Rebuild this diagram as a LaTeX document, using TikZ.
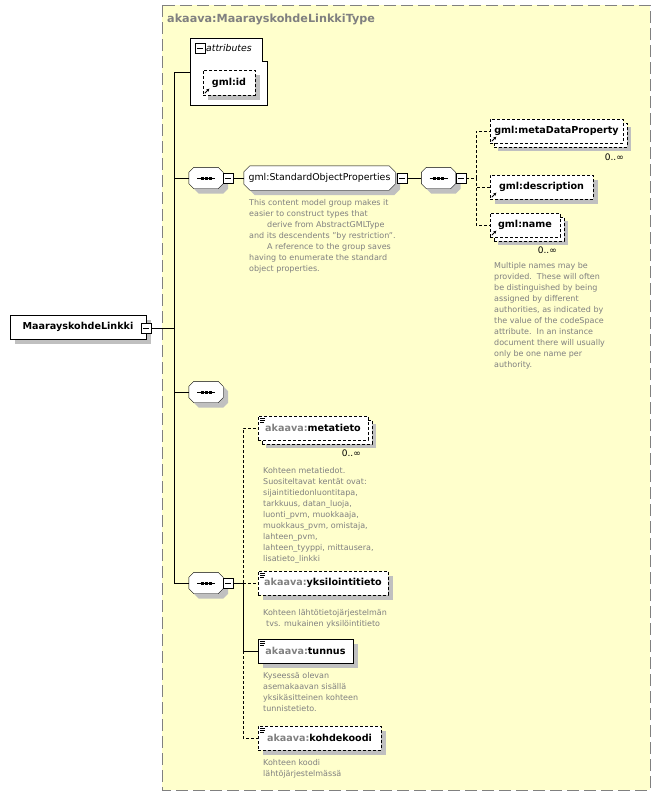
\documentclass[tikz,border=0pt]{standalone}
\usepackage{fontspec}
\setmainfont{DejaVu Sans}
\usetikzlibrary{shadows,arrows.meta}
\pgfdeclarelayer{back}
\pgfdeclarelayer{bg}
\pgfsetlayers{back,bg,main}
\definecolor{yellowbg}{RGB}{255,255,204}
\definecolor{framegray}{RGB}{128,128,128}
\definecolor{shadowgray}{RGB}{192,192,192}
\definecolor{descgray}{RGB}{128,128,128}
\definecolor{prefgray}{RGB}{128,128,128}
\newcommand\pfx[1]{\textcolor{prefgray}{#1}}
\newcommand\lblfont{\fontsize{9.6}{11}\selectfont\bfseries}
\newcommand\regfont{\fontsize{9.4}{11}\selectfont}
\newcommand\descfont{\fontsize{8}{11}\selectfont}
\newcommand\octpath[2]{([xshift=#2]#1.north west) -- ([xshift=-#2]#1.north east) -- ([yshift=-#2]#1.north east) -- ([yshift=#2]#1.south east) -- ([xshift=-#2]#1.south east) -- ([xshift=#2]#1.south west) -- ([yshift=#2]#1.south west) -- ([yshift=-#2]#1.north west) -- cycle}
\newcommand\octa[2]{%
  \begin{pgfonlayer}{bg}
  \fill[shadowgray, transform canvas={shift={(5pt,-5pt)}}] \octpath{#1}{#2};
  \draw[fill=white] \octpath{#1}{#2};
  \end{pgfonlayer}}
\newcommand\seqmark[1]{%
  \draw[line width=0.8pt] ([xshift=-9pt]#1.center) -- ([xshift=9pt]#1.center);
  \fill ([xshift=-5.5pt,yshift=-1.5pt]#1.center) rectangle ++(3,-3);
  \fill ([xshift=-1.5pt,yshift=-1.5pt]#1.center) rectangle ++(3,-3);
  \fill ([xshift=2.5pt,yshift=-1.5pt]#1.center) rectangle ++(3,-3);}
\newcommand\refmark[1]{%
  \draw[line width=0.8pt,-{Stealth[length=3pt,width=3pt]}] ([xshift=2pt,yshift=2pt]#1.south west) -- ++(4.5,-4.5);}
\newcommand\typemark[1]{%
  \draw[line width=0.6pt] ([xshift=2pt,yshift=-2pt]#1.north west) -- ++(5,0);
  \draw[line width=0.6pt] ([xshift=2pt,yshift=-4pt]#1.north west) -- ++(5,0);
  \draw[line width=0.6pt] ([xshift=2pt,yshift=-6pt]#1.north west) -- ++(4,0);}
\begin{document}
\begin{tikzpicture}[x=1pt,y=-1pt, line width=0.8pt,
  box/.style={draw=black, fill=white, minimum height=24pt, inner sep=0pt, font=\lblfont},
  sh/.style={general shadow={fill=shadowgray, shadow xshift=5pt, shadow yshift=-5pt}},
  multi/.style={general shadow={fill=shadowgray, shadow xshift=8pt, shadow yshift=-8pt},
                general shadow={fill=white, draw=black, dash pattern=on 3pt off 2pt, shadow xshift=4pt, shadow yshift=-4pt}},
  opt/.style={dash pattern=on 3pt off 2pt},
  optline/.style={dash pattern=on 3pt off 2pt},
  seqbox/.style={draw=none, minimum width=34pt, minimum height=21pt, inner sep=0pt},
  minusbox/.style={draw=black, fill=white, minimum size=10pt, inner sep=0pt, path picture={\draw[line width=0.8pt] ([xshift=2pt]path picture bounding box.west) -- ([xshift=-2pt]path picture bounding box.east);}},
  desc/.style={font=\descfont, text=descgray, align=left, anchor=north west, inner sep=0pt},
  mult/.style={font=\fontsize{9}{10}\selectfont, inner sep=0pt, anchor=east},
]
\useasboundingbox (0,0) rectangle (660,796);
\begin{pgfonlayer}{back}
\fill[white] (0,0) rectangle (660,796);
\draw[framegray, line width=1pt, dash pattern=on 12pt off 5pt, fill=yellowbg] (162,5) rectangle (650,790);
\end{pgfonlayer}
\node[font=\fontsize{11.2}{13}\selectfont\bfseries, text=prefgray, anchor=west, inner sep=0pt] (ttl) at (167,19) {akaava:MaarayskohdeLinkkiType};

% trunk
\coordinate (trunkTop) at (174,72);
\coordinate (trunkBot) at (174,583);
\draw (trunkTop) -- (trunkBot);

% main element
\node[box, sh, minimum width=136pt] (main) at (78,327) {MaarayskohdeLinkki};
\node[minusbox] (mainm) at (146,328) {};
\draw (mainm.east) -- (trunkTop |- mainm.east);

% attributes
\node[draw=none, minimum width=77pt, minimum height=67pt, inner sep=0pt] (attr) at (228.5,71.5) {};
\draw[fill=white] (attr.north west) -- ([xshift=-5pt]attr.north east) -- ([xshift=-5pt,yshift=-23pt]attr.north east) -- ([yshift=-23pt]attr.north east) -- (attr.south east) -- (attr.south west) -- cycle;
\node[minusbox] (attrm) at (200,48) {};
\node[font=\fontsize{9.3}{11}\selectfont\itshape, anchor=west, inner sep=0pt] (attrl) at (206,48.5) {attributes};
\draw (trunkTop) -- (trunkTop -| attr.west);
\node[box, sh, opt, minimum width=52pt, minimum height=25pt] (gid) at (229,82.5) {gml:id};
\refmark{gid}

% sequence 1
\node[seqbox] (s1) at (206,178) {};
\octa{s1}{5pt}
\seqmark{s1}
\node[minusbox] (s1m) at (228,178) {};
\draw (trunkTop |- s1.west) -- (s1.west);
\node[draw=none, minimum width=151pt, minimum height=24pt, inner sep=0pt, font=\regfont] (sop) at (319.5,178) {gml:StandardObjectProperties};
\octa{sop}{6pt}
\draw (s1m.east) -- (sop.west);
\node[minusbox] (sopm) at (402,178) {};
\node[seqbox] (s1b) at (438.5,178) {};
\octa{s1b}{5pt}
\seqmark{s1b}
\node[minusbox] (s1bm) at (461,178) {};
\draw (sopm.east) -- (s1b.west);
\coordinate (fork1) at (476,178);
\draw[optline] (s1bm.east) -- (fork1);

\node[box, multi, opt, minimum width=133pt] (meta) at (556.5,131) {gml:metaDataProperty};
\refmark{meta}
\node[mult] (metam) at (624,157) {0..∞};
\node[box, sh, opt, minimum width=103pt] (gdesc) at (541.5,187) {gml:description};
\refmark{gdesc}
\node[box, multi, opt, minimum width=70pt] (gname) at (525,225) {gml:name};
\refmark{gname}
\node[mult] (gnamem) at (557,250) {0..∞};
\draw[optline] (fork1) |- (meta.west);
\draw[optline] (fork1) |- (gdesc.west);
\draw[optline] (fork1) |- (gname.west);

\node[desc] (sopd) at (249,199) {This content model group makes it\\easier to construct types that\\\hspace*{18pt}derive from AbstractGMLType\\and its descendents "by restriction".\\\hspace*{18pt}A reference to the group saves\\having to enumerate the standard\\object properties.};
\node[desc] (gnamed) at (494,262) {Multiple names may be\\provided.\ \ These will often\\be distinguished by being\\assigned by different\\authorities, as indicated by\\the value of the codeSpace\\attribute.\ \ In an instance\\document there will usually\\only be one name per\\authority.};

% sequence 2
\node[seqbox] (s2) at (206,392) {};
\octa{s2}{5pt}
\seqmark{s2}
\draw (trunkTop |- s2.west) -- (s2.west);

% sequence 3
\node[seqbox] (s3) at (206,583) {};
\octa{s3}{5pt}
\seqmark{s3}
\node[minusbox] (s3m) at (228,583) {};
\draw (trunkBot) -- (s3.west);
\coordinate (fork2) at (243,583);
\draw (s3m.east) -- (fork2);

\node[box, multi, opt, minimum width=110pt] (mt) at (313,428) {\pfx{akaava:}metatieto};
\typemark{mt}
\node[mult] (mtm) at (361,453) {0..∞};
\node[box, sh, opt, minimum width=130pt] (yk) at (323,583) {\pfx{akaava:}yksilointitieto};
\typemark{yk}
\node[box, sh, minimum width=95pt] (tun) at (305.5,651) {\pfx{akaava:}tunnus};
\typemark{tun}
\node[box, sh, opt, minimum width=123pt] (kk) at (319.5,738) {\pfx{akaava:}kohdekoodi};
\typemark{kk}
\draw[optline] (fork2) |- (mt.west);
\draw[optline] (fork2) -- (yk.west);
\draw (fork2) |- (tun.west);
\draw[optline] (tun.west -| fork2) |- (kk.west);

\node[desc] (mtd) at (263,467) {Kohteen metatiedot.\\Suositeltavat kentät ovat:\\sijaintitiedonluontitapa,\\tarkkuus, datan\_luoja,\\luonti\_pvm, muokkaaja,\\muokkaus\_pvm, omistaja,\\lahteen\_pvm,\\lahteen\_tyyppi, mittausera,\\lisatieto\_linkki};
\node[desc] (ykd) at (263,609) {Kohteen lähtötietojärjestelmän\\\hspace*{3pt}tvs. mukainen yksilöintitieto};
\node[desc] (tund) at (263,672) {Kyseessä olevan\\asemakaavan sisällä\\yksikäsitteinen kohteen\\tunnistetieto.};
\node[desc] (kkd) at (263,759) {Kohteen koodi\\lähtöjärjestelmässä};
\end{tikzpicture}
\end{document}
